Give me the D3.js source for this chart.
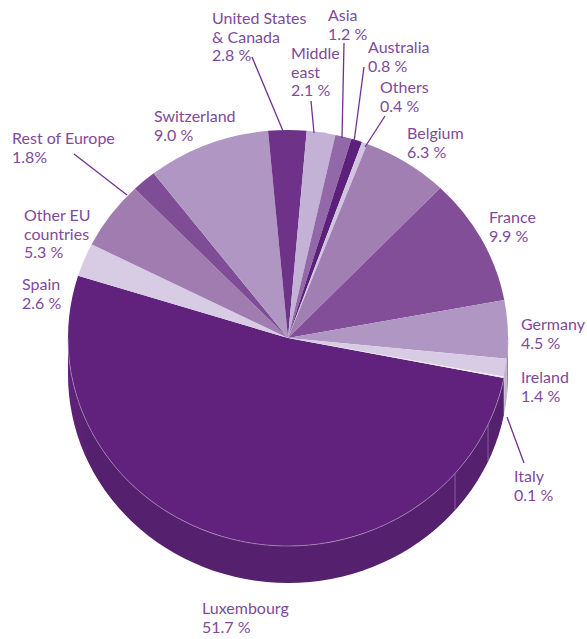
<!DOCTYPE html>
<html>
<head>
<meta charset="utf-8">
<script src="https://cdn.jsdelivr.net/npm/d3@7"></script>
<style>
  html, body { margin: 0; padding: 0; background: #fff; }
  svg { display: block; }
  text { font-family: Lato, sans-serif; font-size: 16px; font-weight: 400; fill: #7f4a9a; }
</style>
</head>
<body>
<div id="container"></div>
<script>
const categories = ["Luxembourg", "Spain", "Other EU countries", "Rest of Europe", "Switzerland",
  "United States & Canada", "Middle east", "Asia", "Australia", "Others", "Belgium", "France",
  "Germany", "Ireland", "Italy"];
const shares = [51.7, 2.6, 5.3, 1.8, 9.0, 2.8, 2.1, 1.2, 0.8, 0.4, 6.3, 9.9, 4.5, 1.4, 0.1];
const shareLabels = ["51.7 %", "2.6 %", "5.3 %", "1.8%", "9.0 %", "2.8 %", "2.1 %", "1.2 %",
  "0.8 %", "0.4 %", "6.3 %", "9.9 %", "4.5 %", "1.4 %", "0.1 %"];

const sliceColors = ["#60227c", "#d8cce5", "#a07cb0", "#7e4d96", "#b096c3", "#6e3389", "#c3b2d5",
  "#9268a8", "#5c1f7a", "#d0c4de", "#a27fb2", "#814e97", "#b096c3", "#d8cce5", "#f1edf5"];

// label placement: x, first baseline y, lines, leader from/to
const labelLayout = {
  "Luxembourg": { x: 202, y: 614, lines: ["Luxembourg"] },
  "Spain": { x: 22, y: 290, lines: ["Spain"] },
  "Other EU countries": { x: 24, y: 221, lines: ["Other EU", "countries"] },
  "Rest of Europe": { x: 12, y: 144, lines: ["Rest of Europe"], leader: [74, 154, 127, 195] },
  "Switzerland": { x: 154, y: 122, lines: ["Switzerland"] },
  "United States & Canada": { x: 212, y: 24, lines: ["United States", "& Canada"], leader: [252, 57, 283, 131] },
  "Middle east": { x: 291, y: 59, lines: ["Middle", "east"], leader: [311, 101, 314, 133] },
  "Asia": { x: 328, y: 21, lines: ["Asia"], leader: [344, 43, 342, 138] },
  "Australia": { x: 368, y: 53, lines: ["Australia"], leader: [364, 67, 354, 142] },
  "Others": { x: 380, y: 93, lines: ["Others"], leader: [385, 116, 365, 147] },
  "Belgium": { x: 407, y: 139, lines: ["Belgium"] },
  "France": { x: 489, y: 223, lines: ["France"] },
  "Germany": { x: 521, y: 330, lines: ["Germany"] },
  "Ireland": { x: 521, y: 383, lines: ["Ireland"] },
  "Italy": { x: 514, y: 482, lines: ["Italy"], leader: [524, 463, 507, 417] }
};

const width = 587;
const height = 639;
const cx = 288;
const cy = 338;
const rx = 220;
const ry = 208;
const depth = 37;
const startAngle = (101.1 * Math.PI) / 180;

const svg = d3.select("#container").append("svg")
  .attr("width", width)
  .attr("height", height);

// the wall fades into the face colour at the far left
const fade = svg.append("defs").append("linearGradient")
  .attr("id", "wallFade")
  .attr("gradientUnits", "userSpaceOnUse")
  .attr("x1", cx - rx).attr("x2", cx - rx + 24)
  .attr("y1", 0).attr("y2", 0);
fade.append("stop").attr("offset", 0).attr("stop-color", "#60227c");
fade.append("stop").attr("offset", 1).attr("stop-color", "#55206e");

const pie = d3.pie().sort(null)
  .startAngle(startAngle)
  .endAngle(startAngle + 2 * Math.PI);
const slices = pie(shares);

const edgePoint = a => [cx + rx * Math.sin(a), cy - ry * Math.cos(a)];

// side wall, only the front half of each slice
const sidePath = (a0, a1) => {
  const lo = Math.max(a0, Math.PI / 2);
  const hi = Math.min(a1, (3 * Math.PI) / 2);
  if (hi <= lo) return null;
  const pts = d3.range(0, 61).map(i => edgePoint(lo + ((hi - lo) * i) / 60));
  const upper = pts.map(p => p.join(",")).join("L");
  const lower = pts.slice().reverse().map(p => [p[0], p[1] + depth].join(",")).join("L");
  return `M${upper}L${lower}Z`;
};

const sideColor = c => d3.color(c).darker(0.35).formatHex();

const wall = svg.append("g");
slices.forEach((d, i) => {
  const isLux = categories[i] === "Luxembourg";
  // slices past the right edge also wrap round to the start
  [0, 2 * Math.PI].forEach(shift => {
    const p = sidePath(d.startAngle - shift, d.endAngle - shift);
    if (p) wall.append("path").attr("d", p)
      .attr("fill", isLux ? "url(#wallFade)" : sideColor(sliceColors[i]));
  });
});

// faint ridge lines on the wall
[114.6, 130.6].forEach(deg => {
  const [x, y] = edgePoint((deg * Math.PI) / 180);
  wall.append("line")
    .attr("x1", x).attr("y1", y)
    .attr("x2", x).attr("y2", y + depth)
    .attr("stroke", "#a98cbb").attr("stroke-width", 0.6);
});

const arc = d3.arc().innerRadius(0).outerRadius(rx);
const face = svg.append("g")
  .attr("transform", `translate(${cx},${cy}) scale(1,${ry / rx})`);
face.selectAll("path")
  .data(slices)
  .join("path")
  .attr("d", arc)
  .attr("fill", (d, i) => sliceColors[i]);

// thin light rim between the top face and the wall
const rim = d3.range(0, 121).map(i => edgePoint(Math.PI / 2 + (Math.PI * i) / 120));
svg.append("path")
  .attr("d", d3.line()(rim))
  .attr("fill", "none")
  .attr("stroke", "#b39cc4")
  .attr("stroke-width", 0.6);

// labels
const labels = svg.append("g");
categories.forEach((name, i) => {
  const l = labelLayout[name];
  const t = labels.append("text").attr("x", l.x).attr("y", l.y);
  [...l.lines, shareLabels[i]].forEach((line, j) => {
    t.append("tspan").attr("x", l.x).attr("dy", j === 0 ? 0 : 18.5).text(line);
  });
  if (l.leader) {
    labels.append("line")
      .attr("x1", l.leader[0]).attr("y1", l.leader[1])
      .attr("x2", l.leader[2]).attr("y2", l.leader[3])
      .attr("stroke", "#73308f").attr("stroke-width", 1.3);
  }
});
</script>
</body>
</html>
